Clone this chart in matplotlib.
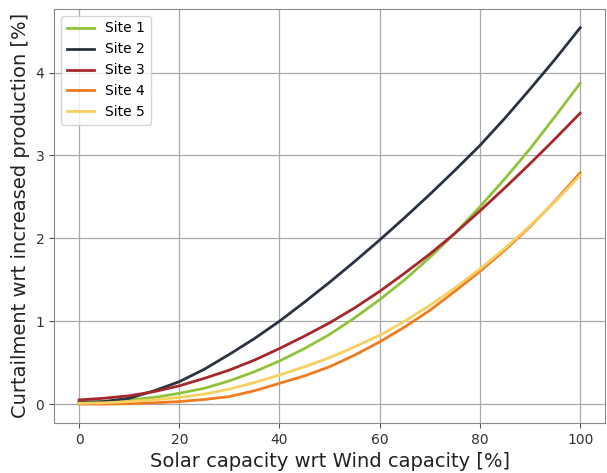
import matplotlib.pyplot as plt

# solar capacity relative to wind capacity [%]
solar_pct = [0, 5, 10, 15, 20, 25, 30, 35, 40, 45, 50,
             55, 60, 65, 70, 75, 80, 85, 90, 95, 100]

site_1 = [0.02, 0.03, 0.05, 0.08, 0.13, 0.19, 0.28, 0.39, 0.52, 0.67, 0.84,
          1.04, 1.26, 1.50, 1.77, 2.06, 2.38, 2.72, 3.08, 3.47, 3.87]
site_2 = [0.02, 0.03, 0.07, 0.16, 0.27, 0.42, 0.60, 0.79, 1.00, 1.23, 1.47,
          1.72, 1.98, 2.25, 2.53, 2.82, 3.12, 3.45, 3.80, 4.16, 4.54]
site_3 = [0.05, 0.07, 0.10, 0.15, 0.22, 0.31, 0.41, 0.53, 0.67, 0.82, 0.98,
          1.16, 1.36, 1.58, 1.81, 2.06, 2.33, 2.61, 2.90, 3.20, 3.51]
site_4 = [0.00, 0.00, 0.005, 0.015, 0.03, 0.055, 0.09, 0.16, 0.25, 0.34, 0.45,
          0.59, 0.75, 0.93, 1.13, 1.36, 1.60, 1.86, 2.14, 2.45, 2.79]
site_5 = [0.01, 0.015, 0.03, 0.05, 0.08, 0.12, 0.18, 0.26, 0.35, 0.45, 0.56,
          0.69, 0.83, 1.00, 1.19, 1.40, 1.63, 1.88, 2.15, 2.44, 2.76]

labels = ['Site 1', 'Site 2', 'Site 3', 'Site 4', 'Site 5']
colors = ['#8fc43a', '#2a3342', '#a6282b', '#f07c22', '#f6d160']

fig = plt.figure(figsize=(6.07, 4.73), dpi=100)
ax = fig.add_axes([0.089, 0.106, 0.908, 0.875])

for ys, lab, col in zip([site_1, site_2, site_3, site_4, site_5], labels, colors):
    ax.plot(solar_pct, ys, color=col, linewidth=2, label=lab)

ax.grid(True, color='#aaaaaa', linewidth=0.9)
for s in ax.spines.values():
    s.set_color('#8a8a8a')
ax.tick_params(colors='#555555', labelcolor='#333333', labelsize=10)

ax.set_xlabel('Solar capacity wrt Wind capacity [%]', fontsize=14, color='#222222')
ax.set_ylabel('Curtailment wrt increased production [%]', fontsize=14, color='#222222')

ax.legend(loc='upper left', fontsize=10)

fig.savefig('out.png', dpi=100)
